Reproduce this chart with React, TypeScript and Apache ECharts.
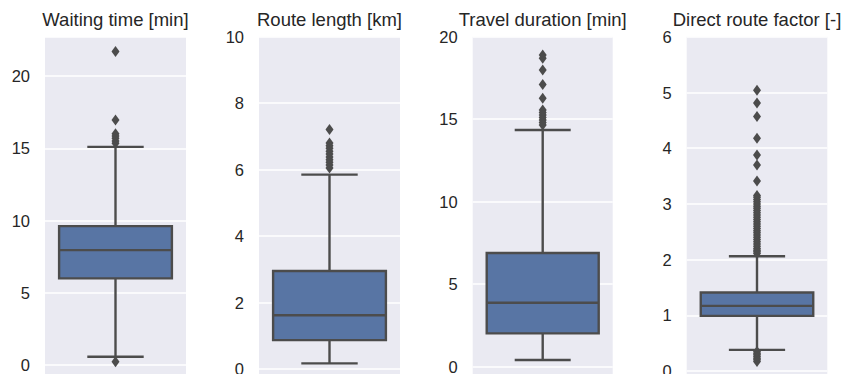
import React, { useEffect, useRef } from "react";
import * as echarts from "echarts";

// ---- data ----
const titles = ["Waiting time [min]", "Route length [km]", "Travel duration [min]", "Direct route factor [-]"];
// [lower whisker, Q1, median, Q3, upper whisker]
const waitingStats = [0.57, 6.0, 7.95, 9.61, 15.1];
const waitingOutliers = [21.7, 16.95, 16.0, 15.85, 15.7, 15.5, 15.35, 0.23];
const lengthStats = [0.17, 0.87, 1.62, 2.95, 5.85];
const lengthOutliers = [7.21, 6.8, 6.72, 6.64, 6.55, 6.47, 6.38, 6.3, 6.22, 6.14, 6.05];
const durationStats = [0.41, 2.02, 3.88, 6.89, 14.35];
const durationOutliers = [18.89, 18.69, 17.98, 17.1, 16.27, 15.56, 15.4, 15.25, 15.1, 14.95, 14.8, 14.65];
const factorStats = [0.38, 0.99, 1.17, 1.41, 2.06];
const factorOutliers = [
  5.04, 4.81, 4.57, 4.18, 3.88, 3.7, 3.41,
  3.15, 3.12, 3.08, 3.04, 3.0, 2.96, 2.92, 2.88, 2.84, 2.8, 2.76, 2.72, 2.68, 2.64,
  2.6, 2.56, 2.52, 2.48, 2.44, 2.4, 2.36, 2.32, 2.28, 2.24, 2.2, 2.17, 2.14, 2.11,
  0.35, 0.32, 0.29, 0.26, 0.23, 0.2, 0.17,
];
const allStats = [waitingStats, lengthStats, durationStats, factorStats];
const allOutliers = [waitingOutliers, lengthOutliers, durationOutliers, factorOutliers];
const yMin = [-5, -2, -5, -1];
const yMax = [22.7, 10, 20, 6];
const yInterval = [5, 2, 5, 1];

// ---- layout ----
const gridLeft = [45, 259, 472.7, 686.7];
const gridWidth = [141, 141, 140, 140.6];
const gridTop = [37, 36.7, 36.7, 36.8];
const gridHeight = [400.3, 398.8, 412.5, 389.9];

const FONT = "'Liberation Sans', Arial, sans-serif";
const TEXT = "#262626";
const LINE = "#4c4c4c";
const FILL = "#5875a4";
const BG = "#eaeaf2";

export default function App() {
  const ref = useRef<HTMLDivElement>(null);
  useEffect(() => {
    if (!ref.current) return;
    const chart = echarts.init(ref.current, undefined, { renderer: "svg" });
    const grids: any[] = [];
    const xAxes: any[] = [];
    const yAxes: any[] = [];
    const series: any[] = [];
    const graphics: any[] = [];
    for (let i = 0; i < 4; i++) {
      grids.push({
        left: gridLeft[i],
        top: gridTop[i],
        width: gridWidth[i],
        height: gridHeight[i],
        show: true,
        backgroundColor: BG,
        borderWidth: 0,
        containLabel: false,
      });
      xAxes.push({
        type: "category",
        gridIndex: i,
        data: [titles[i]],
        show: false,
      });
      yAxes.push({
        type: "value",
        gridIndex: i,
        min: yMin[i],
        max: yMax[i],
        interval: yInterval[i],
        axisLine: { show: false },
        axisTick: { show: false },
        axisLabel: {
          color: TEXT,
          fontSize: 16.5,
          fontFamily: FONT,
          margin: 15,
          showMaxLabel: i !== 0,
          formatter: (v: number) => (v < 0 ? "" : String(v)),
        },
        splitLine: { show: true, lineStyle: { color: "#ffffff", width: 1.5 } },
      });
      series.push({
        type: "custom",
        xAxisIndex: i,
        yAxisIndex: i,
        data: [[0, ...allStats[i]]],
        encode: { x: 0, y: [1, 2, 3, 4, 5] },
        renderItem: (params: any, api: any) => {
          const xv = api.value(0);
          const pLow = api.coord([xv, api.value(1)]);
          const pQ1 = api.coord([xv, api.value(2)]);
          const pMed = api.coord([xv, api.value(3)]);
          const pQ3 = api.coord([xv, api.value(4)]);
          const pHigh = api.coord([xv, api.value(5)]);
          const band = api.size([1, 0])[0];
          const half = band * 0.4;
          const cap = band * 0.2;
          const cx = pMed[0];
          const ls = { stroke: LINE, lineWidth: 2.4 };
          return {
            type: "group",
            children: [
              { type: "line", shape: { x1: cx, y1: pQ3[1], x2: cx, y2: pHigh[1] }, style: ls },
              { type: "line", shape: { x1: cx, y1: pQ1[1], x2: cx, y2: pLow[1] }, style: ls },
              { type: "line", shape: { x1: cx - cap, y1: pHigh[1], x2: cx + cap, y2: pHigh[1] }, style: ls },
              { type: "line", shape: { x1: cx - cap, y1: pLow[1], x2: cx + cap, y2: pLow[1] }, style: ls },
              {
                type: "rect",
                shape: { x: cx - half, y: pQ3[1], width: 2 * half, height: pQ1[1] - pQ3[1] },
                style: { fill: FILL, stroke: LINE, lineWidth: 2.4 },
              },
              { type: "line", shape: { x1: cx - half, y1: pMed[1], x2: cx + half, y2: pMed[1] }, style: ls },
            ],
          };
        },
        z: 2,
      });
      series.push({
        type: "scatter",
        xAxisIndex: i,
        yAxisIndex: i,
        data: allOutliers[i].map((v) => [0, v]),
        symbol: "diamond",
        symbolSize: [8, 11],
        itemStyle: { color: LINE, opacity: 1 },
        z: 3,
      });
      graphics.push({
        type: "text",
        x: gridLeft[i] + gridWidth[i] / 2,
        y: 19.5,
        style: {
          text: titles[i],
          fill: TEXT,
          font: `18.5px ${FONT}`,
          align: "center",
          verticalAlign: "middle",
        },
      });
    }
    chart.setOption({
      animation: false,
      backgroundColor: "#ffffff",
      grid: grids,
      xAxis: xAxes,
      yAxis: yAxes,
      series,
      graphic: graphics,
    });
    return () => chart.dispose();
  }, []);
  return (
    <div style={{ position: "fixed", left: 0, top: 0, width: 843, height: 374, overflow: "hidden" }}>
      <div ref={ref} style={{ width: 843, height: 470 }} />
    </div>
  );
}
